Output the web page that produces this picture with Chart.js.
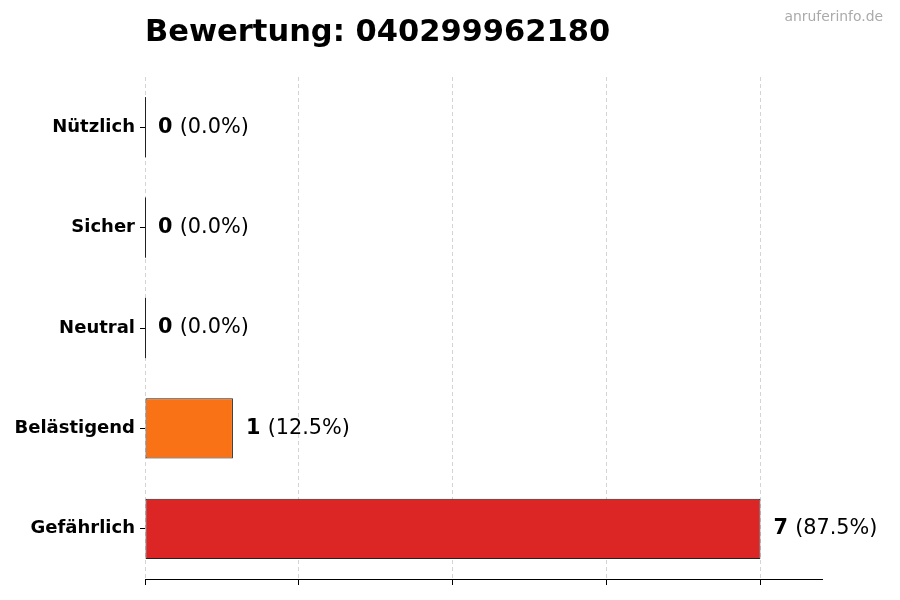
<!DOCTYPE html>
<html>
<head>
<meta charset="utf-8">
<script src="https://cdn.jsdelivr.net/npm/chart.js@4.4.0/dist/chart.umd.min.js"></script>
<style>
    html, body { margin: 0; padding: 0; background: #fff; }
    #wrap { width: 900px; height: 600px; position: relative; }
</style>
</head>
<body>
<div id="wrap"><canvas id="chart"></canvas></div>
<script>
var categories = ["Nützlich", "Sicher", "Neutral", "Belästigend", "Gefährlich"];
var counts = [0, 0, 0, 1, 7];
var barColors = ["#2ca02c", "#3b82f6", "#9ca3af", "#f97316", "#dc2626"];
var gridTicks = [0, 1.75, 3.5, 5.25, 7];
var xMax = 7.7;

var total = counts.reduce(function(a, b) { return a + b; }, 0);
var FONT = "'DejaVu Sans', sans-serif";

// title, watermark, value labels, zero-width bar edges
var overlay = {
    id: 'overlay',
    afterDatasetsDraw: function(chart) {
        var ctx = chart.ctx;
        var meta = chart.getDatasetMeta(0);
        ctx.save();
        meta.data.forEach(function(bar, i) {
            if (counts[i] == 0) {
                ctx.strokeStyle = '#222';
                ctx.lineWidth = 1;
                ctx.beginPath();
                ctx.moveTo(bar.base + 0.5, bar.y - bar.height / 2);
                ctx.lineTo(bar.base + 0.5, bar.y + bar.height / 2);
                ctx.stroke();
            }
            var x = bar.x + 13;
            var pct = total > 0 ? (counts[i] / total * 100) : 0;
            ctx.fillStyle = '#000';
            ctx.textBaseline = 'middle';
            ctx.textAlign = 'left';
            ctx.font = "bold 20.8px " + FONT;
            var v = String(counts[i]);
            ctx.fillText(v, x, bar.y);
            var w = ctx.measureText(v + " ").width;
            ctx.font = "20.8px " + FONT;
            ctx.fillText("(" + pct.toFixed(1) + "%)", x + w, bar.y);
        });
        ctx.restore();
    },
    afterDraw: function(chart) {
        var ctx = chart.ctx;
        ctx.save();
        ctx.fillStyle = '#000';
        ctx.textAlign = 'left';
        ctx.textBaseline = 'alphabetic';
        ctx.font = "bold 30.5px " + FONT;
        ctx.fillText("Bewertung: 040299962180", 145, 41);
        ctx.fillStyle = '#aaaaaa';
        ctx.textAlign = 'right';
        ctx.textBaseline = 'middle';
        ctx.font = "13.9px " + FONT;
        ctx.fillText("anruferinfo.de", 883, 17);
        ctx.restore();
    }
};

var ctx = document.getElementById("chart").getContext("2d");
var chart = new Chart(ctx, {
    type: 'bar',
    data: {
        labels: categories,
        datasets: [{
            data: counts,
            backgroundColor: barColors,
            borderColor: '#222',
            borderWidth: 1,
            borderSkipped: false,
            categoryPercentage: 1.0,
            barPercentage: 0.6
        }]
    },
    options: {
        indexAxis: 'y',
        responsive: true,
        maintainAspectRatio: false,
        animation: false,
        layout: {
            padding: { top: 77, right: 78, left: 0, bottom: 0 }
        },
        plugins: {
            legend: { display: false },
            title: { display: false },
            tooltip: { enabled: false }
        },
        scales: {
            x: {
                type: 'linear',
                min: 0,
                max: xMax,
                z: 1,
                afterBuildTicks: function(scale) {
                    scale.ticks = gridTicks.map(function(v) { return { value: v }; });
                },
                afterFit: function(scale) {
                    scale.height = 21;
                },
                ticks: { display: false },
                grid: {
                    color: '#d4d4d4',
                    lineWidth: 1,
                    drawTicks: true,
                    tickLength: 6,
                    tickColor: '#000',
                    tickWidth: 1
                },
                border: {
                    display: true,
                    color: '#000',
                    width: 1,
                    dash: [4, 3]
                }
            },
            y: {
                afterFit: function(scale) {
                    scale.width = 145;
                },
                ticks: {
                    color: '#000',
                    padding: 5,
                    font: { family: FONT, size: 18, weight: 'bold' }
                },
                grid: {
                    offset: false,
                    drawOnChartArea: false,
                    drawTicks: true,
                    tickLength: 5,
                    tickColor: '#000'
                },
                border: { display: false }
            }
        }
    },
    plugins: [overlay]
});
</script>
</body>
</html>
